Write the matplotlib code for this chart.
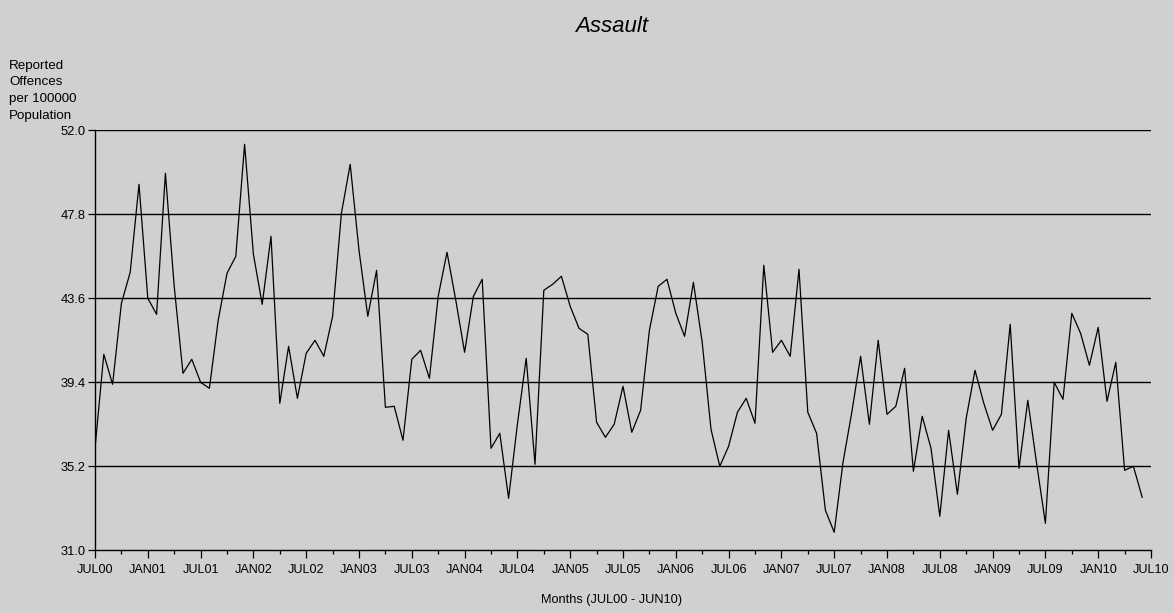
import numpy as np
import matplotlib.pyplot as plt
from matplotlib.ticker import MultipleLocator

plt.rcParams['font.family'] = ['Liberation Sans', 'DejaVu Sans']

# 월별 값 (JUL00 ~ JUN10, 120개월) - 그림에서 읽은 값
assault = [
    36.1, 40.8, 39.3, 43.35, 44.9, 49.3, 43.6, 42.8, 49.85, 44.2,
    39.85, 40.55, 39.4, 39.1, 42.5, 44.85, 45.7, 51.3, 45.8, 43.3,
    46.7, 38.35, 41.2, 38.6, 40.85, 41.5, 40.7, 42.7, 47.85, 50.3,
    46.0, 42.7, 45.0, 38.15, 38.2, 36.5, 40.55, 41.0, 39.6, 43.7,
    45.9, 43.5, 40.9, 43.7, 44.55, 36.1, 36.85, 33.6, 37.3, 40.6,
    35.3, 44.0, 44.3, 44.7, 43.2, 42.1, 41.8, 37.4, 36.65, 37.3,
    39.2, 36.9, 38.0, 42.0, 44.2, 44.55, 42.85, 41.7, 44.4, 41.4,
    37.05, 35.2, 36.2, 37.9, 38.6, 37.35, 45.25, 40.9, 41.5, 40.7,
    45.05, 37.9, 36.85, 33.0, 31.9, 35.4, 37.9, 40.7, 37.3, 41.5,
    37.8, 38.2, 40.1, 34.95, 37.7, 36.1, 32.7, 37.0, 33.8, 37.6,
    40.0, 38.35, 37.0, 37.8, 42.3, 35.1, 38.5, 35.35, 32.35, 39.4,
    38.55, 42.85, 41.85, 40.25, 42.15, 38.45, 40.4, 35.0, 35.2, 33.65,
]
months = np.arange(len(assault))

tick_pos = np.arange(0, 121, 6)
tick_labels = ['JUL00', 'JAN01', 'JUL01', 'JAN02', 'JUL02', 'JAN03', 'JUL03',
               'JAN04', 'JUL04', 'JAN05', 'JUL05', 'JAN06', 'JUL06', 'JAN07',
               'JUL07', 'JAN08', 'JUL08', 'JAN09', 'JUL09', 'JAN10', 'JUL10']
y_ticks = [31.0, 35.2, 39.4, 43.6, 47.8, 52.0]
ylabel_lines = ['Reported', 'Offences', 'per 100000', 'Population']

bg = '#d0d0d0'
W, H = 1174, 613
fig = plt.figure(figsize=(W / 100, H / 100), dpi=100, facecolor=bg)
ax = fig.add_axes([95 / W, (H - 550.3) / H, (1151 - 95) / W, 420 / H])
ax.set_facecolor(bg)

ax.plot(months, assault, color='black', lw=0.9)

ax.set_xlim(0, 120)
ax.set_ylim(31.0, 52.0)
ax.set_yticks(y_ticks)
ax.set_yticklabels(['%.1f' % v for v in y_ticks], fontsize=9.3)
for v in y_ticks[1:]:
    ax.axhline(v, color='black', lw=1.0)

ax.set_xticks(tick_pos)
ax.set_xticklabels(tick_labels, fontsize=9.1)
ax.xaxis.set_minor_locator(MultipleLocator(3))
ax.tick_params(axis='x', which='major', length=6, width=0.9, pad=4)
ax.tick_params(axis='x', which='minor', length=3, width=0.9)
ax.tick_params(axis='y', length=5, width=0.9, pad=2)

for s in ['top', 'right']:
    ax.spines[s].set_visible(False)
for s in ['left', 'bottom']:
    ax.spines[s].set_color('black')
    ax.spines[s].set_linewidth(1.0)

fig.text(612 / W, 1 - 27 / H, 'Assault', fontsize=16, style='italic',
         ha='center', va='center')
# y축 제목은 왼쪽 위에 네 줄로
for k, line in enumerate(ylabel_lines):
    fig.text(9 / W, 1 - (65.5 + 16.7 * k) / H, line, fontsize=9.6,
             ha='left', va='center')
fig.text(612 / W, 1 - 600 / H, 'Months (JUL00 - JUN10)', fontsize=9.2,
         ha='center', va='center')

fig.savefig('out.png', dpi=100, facecolor=bg)
